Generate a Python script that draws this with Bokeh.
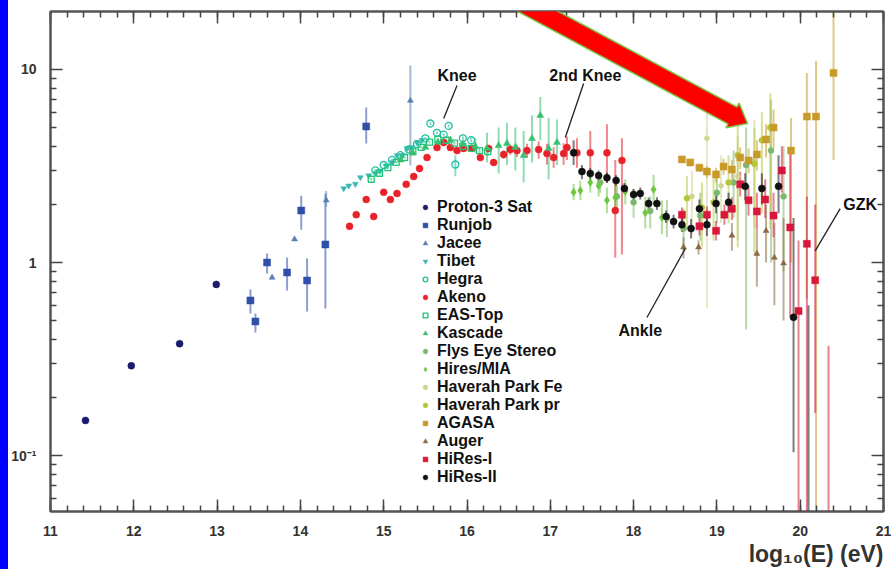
import math
from bokeh.plotting import figure
from bokeh.layouts import row
from bokeh.models import (ColumnDataSource, FixedTicker, LinearAxis, LogAxis, Legend,
                          LegendItem, PolyAnnotation, Title, Spacer)
from bokeh.core.properties import value
from bokeh.embed import file_html
from bokeh.resources import INLINE

# ---------------- data (log10 E [eV], flux scaled) ----------------
p3_x = [11.42, 11.97, 12.55, 12.99]
p3_y = [0.152, 0.292, 0.38, 0.77]
p3_lo = [0.152, 0.292, 0.38, 0.77]
p3_hi = [0.152, 0.292, 0.38, 0.77]

runjob_x = [13.40, 13.46, 13.60, 13.84, 14.08, 14.01, 14.30, 14.79]
runjob_y = [0.636, 0.495, 1.0, 0.888, 0.807, 1.86, 1.24, 5.07]
runjob_lo = [0.544, 0.434, 0.877, 0.716, 0.557, 1.48, 0.578, 4.14]
runjob_hi = [0.724, 0.544, 1.113, 1.06, 1.05, 2.22, 2.28, 6.35]

jacee_x = [13.66, 13.93, 14.31, 15.32]
jacee_y = [0.836, 1.32, 2.10, 6.9]
jacee_lo = [0.82, 1.30, 1.95, 3.18]
jacee_hi = [0.85, 1.34, 2.35, 10.5]

tibet_x = [14.52, 14.58, 14.66, 14.72, 14.82, 14.90, 14.96, 15.04, 15.10, 15.16, 15.22, 15.28, 15.34, 15.40, 15.46]
tibet_y = [2.42, 2.50, 2.55, 2.76, 2.82, 2.90, 2.99, 3.18, 3.30, 3.58, 3.60, 3.90, 3.95, 4.18, 4.30]
tibet_lo = [2.38, 2.46, 2.51, 2.71, 2.77, 2.85, 2.94, 3.12, 3.24, 3.52, 3.54, 3.83, 3.88, 4.10, 4.22]
tibet_hi = [2.46, 2.54, 2.59, 2.81, 2.87, 2.95, 3.04, 3.24, 3.36, 3.64, 3.66, 3.97, 4.02, 4.26, 4.38]

hegra_x = [14.90, 15.00, 15.10, 15.20, 15.30, 15.40, 15.50, 15.56, 15.64, 15.72, 15.78, 15.86, 15.95, 16.05]
hegra_y = [3.00, 3.20, 3.40, 3.60, 3.85, 4.10, 4.40, 5.25, 4.70, 4.60, 5.10, 3.22, 4.40, 4.30]
hegra_lo = [2.95, 3.15, 3.35, 3.55, 3.80, 4.05, 4.33, 5.15, 4.62, 4.52, 5.00, 2.80, 4.30, 4.20]
hegra_hi = [3.05, 3.25, 3.45, 3.65, 3.90, 4.15, 4.47, 5.35, 4.78, 4.68, 5.20, 3.60, 4.50, 4.40]

eastop_x = [14.85, 14.95, 15.05, 15.15, 15.25, 15.35, 15.45, 15.55, 15.65, 15.75, 15.85, 15.95, 16.05, 16.15, 16.25]
eastop_y = [2.70, 2.90, 3.10, 3.30, 3.50, 3.75, 3.95, 4.20, 4.35, 4.30, 4.15, 4.00, 3.90, 3.80, 3.75]
eastop_lo = [2.66, 2.86, 3.06, 3.26, 3.45, 3.70, 3.90, 4.14, 4.28, 4.22, 4.07, 3.90, 3.78, 3.66, 3.58]
eastop_hi = [2.74, 2.94, 3.14, 3.34, 3.55, 3.80, 4.00, 4.26, 4.42, 4.38, 4.23, 4.10, 4.02, 3.94, 3.92]

kascade_x = [15.20, 15.35, 15.50, 15.65, 15.80, 15.95, 16.10, 16.24, 16.38, 16.48, 16.58, 16.68, 16.78, 16.88, 16.98, 17.08]
kascade_y = [3.40, 3.70, 3.95, 4.20, 4.30, 4.10, 4.00, 3.90, 4.04, 4.14, 3.95, 3.58, 4.39, 5.78, 3.90, 4.19]
kascade_lo = [3.30, 3.60, 3.85, 4.10, 4.15, 3.90, 3.70, 3.30, 2.89, 3.20, 3.00, 2.60, 3.30, 4.30, 2.70, 3.20]
kascade_hi = [3.50, 3.80, 4.05, 4.30, 4.50, 4.30, 4.40, 4.70, 5.00, 5.30, 5.00, 4.80, 5.80, 7.20, 5.60, 5.50]

akeno_x = [14.59, 14.67, 14.79, 14.88, 15.00, 15.08, 15.16, 15.27, 15.36, 15.43,
           15.52, 15.64, 15.72, 15.80, 15.88, 15.96, 16.06, 16.16, 16.26, 16.32,
           16.44, 16.52, 16.60, 16.72, 16.86, 16.96, 17.04, 17.16, 17.20, 17.32,
           17.48, 17.68, 17.78, 17.86]
akeno_y = [1.54, 1.77, 2.12, 1.73, 2.31, 2.12, 2.28, 2.54, 2.79, 3.07,
           3.50, 3.94, 4.18, 3.94, 3.80, 3.90, 3.90, 3.50, 3.90, 3.30,
           3.63, 3.85, 3.80, 3.80, 3.85, 3.67, 3.50, 3.67, 3.94, 3.70,
           3.70, 3.70, 1.86, 3.38]
akeno_lo = [1.50, 1.72, 2.06, 1.68, 2.25, 2.06, 2.22, 2.47, 2.72, 3.00,
            3.42, 3.85, 4.08, 3.85, 3.70, 3.80, 3.78, 3.38, 3.76, 3.16,
            3.45, 3.62, 3.52, 3.48, 3.45, 3.22, 3.10, 3.20, 3.40, 3.10,
            2.90, 2.60, 1.06, 1.10]
akeno_hi = [1.58, 1.82, 2.18, 1.78, 2.37, 2.18, 2.34, 2.61, 2.86, 3.14,
            3.58, 4.03, 4.28, 4.03, 3.90, 4.00, 4.02, 3.62, 4.04, 3.44,
            3.81, 4.08, 4.08, 4.12, 4.25, 4.12, 3.95, 4.15, 4.50, 4.40,
            4.80, 5.20, 3.40, 4.40]

flys_x = [17.60, 17.80, 18.00, 18.20, 18.40, 18.60, 18.80, 19.00, 19.20, 19.35, 19.65, 19.80]
flys_y = [2.60, 2.20, 2.05, 1.85, 1.70, 1.50, 1.75, 2.30, 2.60, 3.20, 3.80, 2.20]
flys_lo = [2.30, 1.90, 1.70, 1.50, 1.35, 1.15, 1.30, 1.60, 1.70, 0.45, 1.00, 0.90]
flys_hi = [2.90, 2.50, 2.40, 2.20, 2.10, 1.90, 2.30, 3.00, 3.80, 5.00, 7.00, 4.00]

mia_x = [17.28, 17.36, 17.48, 17.58, 17.68, 17.78, 17.90, 18.14, 18.24, 18.34]
mia_y = [2.31, 2.36, 2.60, 2.50, 2.10, 2.17, 2.33, 1.81, 2.39, 1.71]
mia_lo = [2.10, 2.10, 2.30, 2.20, 1.80, 1.85, 2.00, 1.50, 2.00, 1.40]
mia_hi = [2.55, 2.65, 2.95, 2.85, 2.45, 2.55, 2.70, 2.20, 2.85, 2.10]

hpfe_x = [18.70, 18.88, 19.05, 19.25, 19.45]
hpfe_y = [2.20, 4.40, 2.50, 2.80, 3.40]
hpfe_lo = [1.40, 0.58, 1.60, 1.30, 1.50]
hpfe_hi = [3.00, 6.00, 3.60, 4.50, 5.50]

hppr_x = [18.64, 18.82, 18.96, 19.14, 19.25, 19.45, 19.54, 19.64]
hppr_y = [2.15, 1.93, 2.05, 2.60, 3.60, 3.25, 4.30, 5.00]
hppr_lo = [1.50, 1.20, 1.30, 1.60, 1.20, 1.10, 1.80, 1.50]
hppr_hi = [2.80, 2.60, 2.90, 3.60, 6.50, 5.00, 6.00, 7.50]

agasa_x = [18.58, 18.68, 18.79, 18.88, 18.99, 19.08, 19.18, 19.28, 19.38, 19.48, 19.59, 19.68, 19.89, 20.08, 20.19, 20.40]
agasa_y = [3.42, 3.30, 3.10, 2.96, 2.86, 3.14, 3.03, 3.50, 3.38, 3.63, 4.34, 5.00, 3.80, 5.70, 5.70, 9.60]
agasa_lo = [3.30, 3.15, 2.95, 2.75, 2.60, 2.85, 2.70, 3.05, 2.90, 3.00, 3.50, 3.90, 1.00, 0.65, 0.05, 3.40]
agasa_hi = [3.55, 3.45, 3.25, 3.15, 3.10, 3.45, 3.40, 3.95, 3.90, 4.30, 5.20, 6.20, 5.60, 9.60, 11.1, 30.0]

auger_x = [18.60, 18.78, 19.18, 19.48, 19.59, 19.69, 19.80]
auger_y = [1.20, 1.20, 1.38, 1.11, 1.46, 1.06, 0.99]
auger_lo = [1.05, 1.10, 1.15, 0.75, 1.00, 0.60, 0.50]
auger_hi = [1.35, 1.30, 1.60, 1.50, 2.00, 1.60, 1.70]

hires1_x = [18.58, 18.79, 18.88, 18.99, 19.09, 19.18, 19.28, 19.38, 19.48, 19.58, 19.68, 19.78, 19.88, 19.98, 20.08, 20.18, 20.34]
hires1_y = [1.77, 1.54, 1.77, 1.46, 1.77, 1.90, 2.54, 2.10, 1.84, 2.12, 1.75, 3.00, 1.52, 0.56, 1.25, 0.81, 0.01]
hires1_lo = [1.62, 1.38, 1.60, 1.30, 1.57, 1.66, 2.20, 1.75, 1.50, 1.70, 1.35, 2.30, 0.52, 0.04, 0.04, 0.166, 0.01]
hires1_hi = [1.93, 1.72, 1.95, 1.64, 2.00, 2.18, 2.95, 2.50, 2.30, 2.70, 2.30, 4.00, 3.67, 1.30, 2.20, 2.00, 0.37]

hires2_x = [17.28, 17.38, 17.48, 17.58, 17.68, 17.79, 17.89, 18.00, 18.08, 18.18, 18.28, 18.39,
            18.48, 18.58, 18.69, 18.79, 18.88, 18.99, 19.14, 19.34, 19.54, 19.74, 19.92, 20.10]
hires2_y = [3.70, 2.96, 2.89, 2.82, 2.75, 2.66, 2.42, 2.25, 2.28, 2.02, 2.02, 1.73,
            1.63, 1.57, 1.50, 1.90, 1.57, 2.02, 2.05, 2.48, 2.42, 2.48, 0.52, 0.01]
hires2_lo = [3.20, 2.70, 2.70, 2.65, 2.58, 2.50, 2.27, 2.10, 2.12, 1.88, 1.87, 1.60,
             1.50, 1.44, 1.33, 1.70, 1.37, 1.80, 1.83, 2.10, 2.00, 1.80, 0.104, 0.01]
hires2_hi = [4.30, 3.20, 3.08, 3.00, 2.92, 2.83, 2.58, 2.40, 2.45, 2.17, 2.18, 1.86,
             1.77, 1.71, 1.68, 2.12, 1.80, 2.25, 2.30, 2.90, 2.90, 3.60, 1.70, 0.60]

x_ticks = [11, 12, 13, 14, 15, 16, 17, 18, 19, 20, 21]
y_ticks = [0.1, 1, 10]
y_tick_labels = {0.1: "10\u207b\u00b9", 1: "1", 10: "10"}

ann_text = ["Knee", "2nd Knee", "Ankle", "GZK"]
ann_x = [15.88, 17.42, 18.08, 20.72]
ann_y = [9.3, 9.3, 0.444, 2.0]
ann_x0 = [15.88, 17.40, 18.16, 20.48]
ann_y0 = [8.26, 8.46, 0.519, 1.90]
ann_x1 = [15.72, 17.18, 18.62, 20.18]
ann_y1 = [5.57, 4.44, 1.18, 1.15]

# ---------------- figure ----------------
FONT = "Liberation Sans"
STRIP = 8
W, H = 893 - STRIP, 569
p = figure(width=W, height=H, y_axis_type="log", x_range=(11, 21), y_range=(0.0513, 19.97),
           output_backend="svg", toolbar_location=None,
           min_border_left=50 - STRIP, min_border_right=10, min_border_top=11, min_border_bottom=58)
p.xgrid.visible = False
p.ygrid.visible = False
p.background_fill_color = "white"
p.border_fill_color = "white"
p.outline_line_color = "#555555"
p.outline_line_width = 2

x_minor = [11 + 0.2 * i for i in range(51)]
y_minor = []
for dec in [0.01, 0.1, 1, 10]:
    for k in range(2, 10):
        y_minor.append(k * dec)
xt = FixedTicker(ticks=x_ticks, minor_ticks=x_minor)
yt = FixedTicker(ticks=y_ticks, minor_ticks=y_minor)

def style_axis(ax, labels=True):
    ax.axis_line_color = "#555555"
    ax.axis_line_width = 2
    ax.major_tick_line_color = "#444444"
    ax.minor_tick_line_color = "#444444"
    ax.major_tick_line_width = 1.5
    ax.minor_tick_line_width = 1.5
    ax.major_tick_in = 12
    ax.major_tick_out = 0
    ax.minor_tick_in = 6
    ax.minor_tick_out = 0
    if labels:
        ax.major_label_text_font = FONT
        ax.major_label_text_font_style = "bold"
        ax.major_label_text_font_size = "14px"
        ax.major_label_text_color = "#333333"
    else:
        ax.major_label_text_font_size = "1px"
        ax.major_label_text_alpha = 0
        ax.major_label_standoff = 0

p.xaxis.ticker = xt
p.yaxis.ticker = yt
p.yaxis.major_label_overrides = y_tick_labels
style_axis(p.xaxis[0])
style_axis(p.yaxis[0])
p.xaxis.major_label_standoff = 14
p.yaxis.major_label_standoff = 14

top_ax = LinearAxis(ticker=xt)
style_axis(top_ax, labels=False)
p.add_layout(top_ax, "above")
right_ax = LogAxis(ticker=yt)
style_axis(right_ax, labels=False)
p.add_layout(right_ax, "right")

p.add_layout(Title(text="log\u2081\u2080(E) (eV)", align="right", text_font_size="23px",
                   text_font_style="bold", text_font=FONT, text_color="#333333", standoff=0),
             "below")

series = [
    ("Proton-3 Sat", p3_x, p3_y, p3_lo, p3_hi, "circle", "#1b1a6b", 7, True),
    ("Runjob", runjob_x, runjob_y, runjob_lo, runjob_hi, "square", "#2f4fa8", 7, True),
    ("Jacee", jacee_x, jacee_y, jacee_lo, jacee_hi, "triangle", "#5a7fb5", 6, True),
    ("Tibet", tibet_x, tibet_y, tibet_lo, tibet_hi, "inverted_triangle", "#3ab8b0", 6, True),
    ("Hegra", hegra_x, hegra_y, hegra_lo, hegra_hi, "circle", "#1fc0a0", 7, False),
    ("Akeno", akeno_x, akeno_y, akeno_lo, akeno_hi, "circle", "#e8222a", 7, True),
    ("EAS-Top", eastop_x, eastop_y, eastop_lo, eastop_hi, "square", "#22c278", 6, False),
    ("Kascade", kascade_x, kascade_y, kascade_lo, kascade_hi, "triangle", "#38c070", 7, True),
    ("Flys Eye Stereo", flys_x, flys_y, flys_lo, flys_hi, "circle", "#7bb86e", 6, True),
    ("Hires/MIA", mia_x, mia_y, mia_lo, mia_hi, "diamond", "#6cc63e", 8, True),
    ("Haverah Park Fe", hpfe_x, hpfe_y, hpfe_lo, hpfe_hi, "circle", "#cfd48e", 5, True),
    ("Haverah Park pr", hppr_x, hppr_y, hppr_lo, hppr_hi, "circle", "#b2c83a", 6, True),
    ("AGASA", agasa_x, agasa_y, agasa_lo, agasa_hi, "square", "#c89a2a", 7, True),
    ("Auger", auger_x, auger_y, auger_lo, auger_hi, "triangle", "#8c6a44", 6, True),
    ("HiRes-I", hires1_x, hires1_y, hires1_lo, hires1_hi, "square", "#d8173a", 7, True),
    ("HiRes-II", hires2_x, hires2_y, hires2_lo, hires2_hi, "circle", "#111111", 7, True),
]

items = []
renderers = []
for name, xs, ys, lo, hi, marker, color, size, filled in series:
    src = ColumnDataSource(dict(x=xs, y=ys, lo=lo, hi=hi))
    p.segment(x0="x", y0="lo", x1="x", y1="hi", source=src, line_color=color,
              line_alpha=0.55, line_width=2)
    renderers.append((name, src, marker, color, size, filled))

for name, src, marker, color, size, filled in renderers:
    r = p.scatter(x="x", y="y", source=src, marker=marker, size=size,
                  fill_color=color if filled else None, line_color=color,
                  line_width=1.3 if not filled else 0.5)
    items.append(LegendItem(label=name, renderers=[r]))

legend = Legend(items=items, location=(369, 25), padding=0, margin=0, spacing=0,
                glyph_width=12, glyph_height=18, label_height=18, label_standoff=6,
                label_text_font=FONT, label_text_font_style="bold",
                label_text_font_size="16px", label_text_color="#111111",
                background_fill_alpha=0, border_line_alpha=0)
p.add_layout(legend)

ann_src = ColumnDataSource(dict(x=ann_x, y=ann_y, t=ann_text))
p.text(x="x", y="y", text="t", source=ann_src, text_align="center", text_baseline="middle",
       text_font=value(FONT), text_font_style="bold", text_font_size="16px", text_color="#111111")
line_src = ColumnDataSource(dict(x0=ann_x0, y0=ann_y0, x1=ann_x1, y1=ann_y1))
p.segment(x0="x0", y0="y0", x1="x1", y1="y1", source=line_src, line_color="#222222", line_width=1.3)

# red call-out arrow (screen decoration, canvas pixels of the figure)
tail = (517 - STRIP - 30 * 0.88, -30 * 0.47)
tip = (747 - STRIP, 123)
shaft_hw, head_hw, head_len = 9.5, 14, 17
dx, dy = tip[0] - tail[0], tip[1] - tail[1]
L = math.hypot(dx, dy)
ux, uy = dx / L, dy / L
nx, ny = -uy, ux
bx, by = tip[0] - head_len * ux, tip[1] - head_len * uy
pts = [(tail[0] + shaft_hw * nx, tail[1] + shaft_hw * ny),
       (bx + shaft_hw * nx, by + shaft_hw * ny),
       (bx + head_hw * nx, by + head_hw * ny),
       tip,
       (bx - head_hw * nx, by - head_hw * ny),
       (bx - shaft_hw * nx, by - shaft_hw * ny),
       (tail[0] - shaft_hw * nx, tail[1] - shaft_hw * ny)]
p.add_layout(PolyAnnotation(xs=[q[0] for q in pts], ys=[q[1] for q in pts],
                            xs_units="canvas", ys_units="canvas",
                            fill_color="#ff0000", fill_alpha=1,
                            line_color="#7cc242", line_width=1.5, line_alpha=1))

strip = Spacer(width=STRIP, height=H, styles={"background-color": "#0000ff"})
layout = row(strip, p, spacing=0)

open("out.html", "w").write(file_html(layout, INLINE))
